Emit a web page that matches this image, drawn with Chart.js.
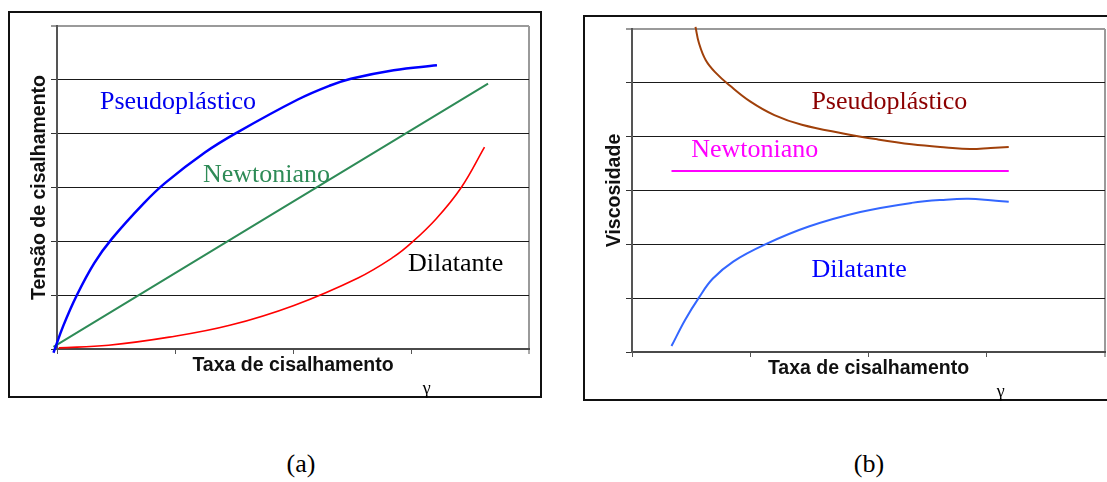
<!DOCTYPE html>
<html>
<head>
<meta charset="utf-8">
<script src="https://cdn.jsdelivr.net/npm/chart.js@4/dist/chart.umd.min.js"></script>
<style>
  html, body { margin: 0; padding: 0; background: #fff; width: 1107px; height: 482px; overflow: hidden; position: relative; }
  .frame { position: absolute; box-sizing: border-box; border: 2px solid #111; }
  #frameA { left: 8px; top: 11px; width: 534px; height: 387px; }
  #frameB { left: 583px; top: 15px; width: 540px; height: 386px; }
  canvas { position: absolute; }
  #cA { left: 8px; top: 11px; }
  #cB { left: 583px; top: 15px; }
  .caption { position: absolute; top: 451px; font: 26px "Liberation Serif", "Times New Roman", serif; line-height: 26px; transform: translateX(-50%); color: #000; }
</style>
</head>
<body>
<div class="frame" id="frameA"></div>
<div class="frame" id="frameB"></div>
<canvas id="cA" width="534" height="387"></canvas>
<canvas id="cB" width="524" height="386"></canvas>
<div class="caption" style="left:301px">(a)</div>
<div class="caption" style="left:869px">(b)</div>
<script>
// (a) Tensão de cisalhamento x taxa de cisalhamento
const pseudoRateA   = [-0.03, 0.053, 0.166, 0.317, 0.466, 0.737, 0.92, 1.253, 1.525, 2.037, 2.309, 2.491, 2.853, 3.22];
const pseudoStressA = [-0.07, 0.43, 0.99, 1.60, 2.05, 2.71, 3.09, 3.65, 4.02, 4.63, 4.89, 5.02, 5.18, 5.27];
const newtonRateA   = [-0.03, 3.653];
const newtonStressA = [0.04, 4.93];
const dilatRateA    = [0.015, 0.437, 0.951, 1.464, 2.008, 2.551, 2.853, 3.003, 3.214, 3.426, 3.623];
const dilatStressA  = [0.02, 0.07, 0.22, 0.44, 0.81, 1.32, 1.71, 1.97, 2.42, 3.0, 3.75];

// (b) Viscosidade x taxa de cisalhamento
const pseudoRateB = [0.537, 0.566, 0.624, 0.711, 0.827, 1.002, 1.204, 1.436, 1.785, 2.075, 2.365, 2.656, 2.859, 3.033, 3.186];
const pseudoViscB = [6.04, 5.74, 5.42, 5.18, 4.95, 4.65, 4.40, 4.22, 4.06, 3.95, 3.86, 3.80, 3.77, 3.79, 3.81];
const newtonRateB = [0.334, 3.186];
const newtonViscB = [3.36, 3.36];
const dilatRateB  = [0.334, 0.45, 0.566, 0.682, 0.856, 1.118, 1.495, 1.931, 2.365, 2.656, 2.845, 3.033, 3.186];
const dilatViscB  = [0.11, 0.60, 1.01, 1.36, 1.68, 1.99, 2.33, 2.60, 2.77, 2.83, 2.845, 2.82, 2.79];

// Axis extents (tick count only; tick labels are not shown)
const rateTicks = [0, 1, 2, 3, 4];
const levelTicks = [0, 1, 2, 3, 4, 5, 6];

const toPoints = (xs, ys) => xs.map((x, i) => ({ x, y: ys[i] }));

const serif = '26px "Liberation Serif", "Times New Roman", serif';

// Curve names written beside the curves, in data units
const namesA = [
  { text: 'Pseudoplástico', x: 0.364, y: 4.46, color: '#0000ee' },
  { text: 'Newtoniano',     x: 1.237, y: 3.10, color: '#2e8b57' },
  { text: 'Dilatante',      x: 2.975, y: 1.45, color: '#000000' },
  { text: 'γ', x: 3.10, y: -0.836, color: '#000000', small: true }
];
const namesB = [
  { text: 'Pseudoplástico', x: 1.517, y: 4.51, color: '#8b0000' },
  { text: 'Newtoniano',     x: 0.50,  y: 3.63, color: '#ff00ff' },
  { text: 'Dilatante',      x: 1.517, y: 1.40, color: '#0000ff' },
  { text: 'γ', x: 3.085, y: -0.836, color: '#000000', small: true }
];

const curveNames = {
  id: 'curveNames',
  afterDatasetsDraw(chart, args, opts) {
    const { ctx, scales: { x, y } } = chart;
    ctx.save();
    ctx.textAlign = 'left';
    ctx.textBaseline = 'alphabetic';
    for (const t of opts.items) {
      ctx.font = t.small ? '18px "Liberation Serif", serif' : serif;
      ctx.fillStyle = t.color;
      ctx.fillText(t.text, x.getPixelForValue(t.x), y.getPixelForValue(t.y));
    }
    ctx.restore();
  }
};

function line(points, color, width) {
  return {
    data: points,
    borderColor: color,
    borderWidth: width,
    pointRadius: 0,
    fill: false,
    tension: 0.4,
    clip: false
  };
}

function makeChart(id, datasets, yTitle, names, pad) {
  const rMax = rateTicks[rateTicks.length - 1];
  const lMax = levelTicks[levelTicks.length - 1];
  return new Chart(document.getElementById(id), {
    type: 'line',
    data: { datasets },
    plugins: [curveNames],
    options: {
      responsive: false,
      animation: false,
      devicePixelRatio: 1,
      layout: { padding: pad },
      plugins: {
        legend: { display: false },
        tooltip: { enabled: false },
        curveNames: { items: names }
      },
      scales: {
        x: {
          type: 'linear',
          min: rateTicks[0], max: rMax,
          ticks: { display: false, stepSize: 1 },
          grid: {
            drawOnChartArea: true,
            color: c => (c.tick && c.tick.value === rMax) ? '#9a9a9a' : 'rgba(0,0,0,0)',
            lineWidth: c => (c.tick && c.tick.value === rMax) ? 2 : 1,
            tickColor: '#555',
            tickLength: 5,
            tickWidth: 1
          },
          border: { display: true, color: '#4a4a4a', width: 2 },
          title: {
            display: true,
            text: 'Taxa de cisalhamento',
            color: '#111',
            font: { family: 'Liberation Sans', size: 19.5, weight: 'bold' },
            padding: { top: 0, bottom: 21 }
          },
          afterFit: s => { s.height = 49; }
        },
        y: {
          type: 'linear',
          min: levelTicks[0], max: lMax,
          ticks: { display: false, stepSize: 1 },
          grid: {
            color: c => {
              const v = c.tick ? c.tick.value : null;
              if (v === lMax) return '#9a9a9a';
              if (v === 0) return 'rgba(0,0,0,0)';
              return '#1a1a1a';
            },
            lineWidth: c => (c.tick && c.tick.value === lMax) ? 2 : 1,
            tickColor: '#333',
            tickLength: 6,
            tickWidth: 1
          },
          border: { display: true, color: '#555', width: 2 },
          title: {
            display: true,
            text: yTitle,
            color: '#111',
            font: { family: 'Liberation Sans', size: 19.5, weight: 'bold' },
            padding: { top: 20, bottom: 0 }
          },
          afterFit: s => { s.width = 49; }
        }
      }
    }
  });
}

makeChart('cA', [
  line(toPoints(pseudoRateA, pseudoStressA), '#0000ff', 2.5),
  line(toPoints(newtonRateA, newtonStressA), '#2e8b57', 2),
  line(toPoints(dilatRateA, dilatStressA), '#ff0000', 1.6)
], 'Tensão de cisalhamento', namesA, { left: 0, top: 15, right: 13, bottom: 0 });

makeChart('cB', [
  line(toPoints(pseudoRateB, pseudoViscB), '#a0400a', 2),
  line(toPoints(newtonRateB, newtonViscB), '#ff00ff', 2),
  line(toPoints(dilatRateB, dilatViscB), '#3366ff', 2)
], 'Viscosidade', namesB, { left: 0, top: 14, right: 2, bottom: 0 });
</script>
</body>
</html>
